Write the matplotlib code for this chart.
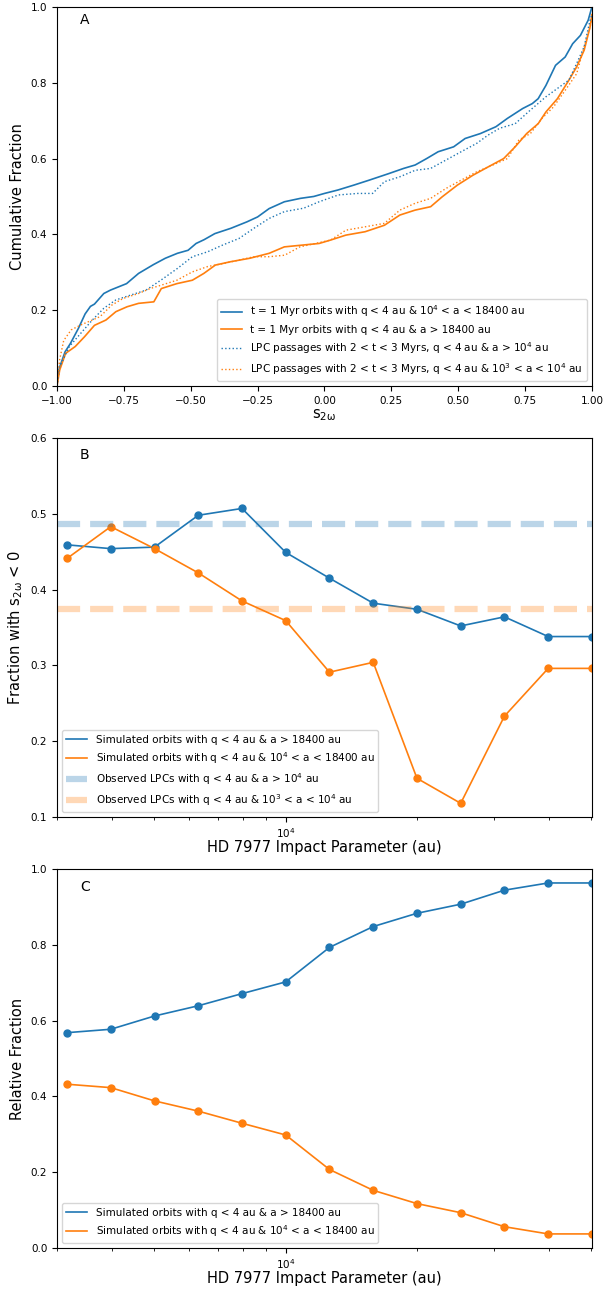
import matplotlib.pyplot as plt
from matplotlib.ticker import NullFormatter

# cumulative distributions of s_2w (knot points along each curve)
s_blue = [-1.0, -0.99, -0.97, -0.95, -0.92, -0.895, -0.875, -0.86, -0.825, -0.80, -0.74, -0.695,
          -0.64, -0.595, -0.55, -0.51, -0.48, -0.45, -0.41, -0.35, -0.29, -0.25, -0.207, -0.15,
          -0.09, -0.04, 0.0, 0.05, 0.11, 0.167, 0.239, 0.296, 0.339, 0.382, 0.425, 0.483, 0.526,
          0.583, 0.641, 0.684, 0.741, 0.777, 0.799, 0.828, 0.864, 0.9, 0.928, 0.957, 0.986, 1.0]
cdf_blue = [0.02, 0.05, 0.09, 0.112, 0.152, 0.19, 0.21, 0.216, 0.244, 0.253, 0.27, 0.297,
            0.32, 0.337, 0.35, 0.358, 0.376, 0.386, 0.402, 0.416, 0.433, 0.446, 0.468, 0.486,
            0.495, 0.50, 0.508, 0.517, 0.53, 0.543, 0.56, 0.574, 0.583, 0.60, 0.618, 0.631, 0.653,
            0.666, 0.684, 0.706, 0.732, 0.745, 0.758, 0.793, 0.846, 0.868, 0.903, 0.925, 0.965, 1.0]

s_orange = [-1.0, -0.99, -0.968, -0.932, -0.897, -0.86, -0.817, -0.78, -0.738, -0.695, -0.638,
            -0.61, -0.552, -0.494, -0.451, -0.408, -0.35, -0.279, -0.207, -0.15, -0.078, -0.02,
            0.023, 0.08, 0.152, 0.224, 0.282, 0.339, 0.397, 0.44, 0.497, 0.555, 0.612, 0.67,
            0.713, 0.756, 0.799, 0.828, 0.871, 0.914, 0.943, 0.971, 0.993, 1.0]
cdf_orange = [0.0, 0.042, 0.086, 0.104, 0.13, 0.16, 0.174, 0.196, 0.209, 0.218, 0.222,
              0.257, 0.27, 0.279, 0.297, 0.319, 0.328, 0.337, 0.35, 0.367, 0.372, 0.376,
              0.385, 0.398, 0.407, 0.424, 0.451, 0.464, 0.473, 0.499, 0.53, 0.556, 0.578, 0.60,
              0.631, 0.666, 0.692, 0.723, 0.758, 0.807, 0.842, 0.886, 0.947, 0.98]

s_lpc_far = [-1.0, -0.99, -0.954, -0.91, -0.868, -0.825, -0.78, -0.724, -0.667, -0.61, -0.55,
             -0.494, -0.437, -0.38, -0.32, -0.264, -0.207, -0.15, -0.078, -0.02, 0.052, 0.124,
             0.18, 0.224, 0.282, 0.339, 0.397, 0.454, 0.511, 0.569, 0.612, 0.655, 0.713, 0.77,
             0.828, 0.871, 0.914, 0.943, 0.971, 0.993, 1.0]
cdf_lpc_far = [0.0, 0.05, 0.104, 0.14, 0.174, 0.205, 0.227, 0.24, 0.253, 0.28, 0.31,
               0.341, 0.354, 0.372, 0.389, 0.416, 0.442, 0.46, 0.469, 0.486, 0.504, 0.508,
               0.508, 0.539, 0.552, 0.569, 0.574, 0.596, 0.618, 0.64, 0.662, 0.68, 0.692, 0.728,
               0.763, 0.785, 0.807, 0.851, 0.895, 0.965, 0.98]

s_lpc_near = [-1.0, -0.99, -0.975, -0.947, -0.911, -0.868, -0.839, -0.796, -0.753, -0.695,
              -0.652, -0.61, -0.552, -0.494, -0.437, -0.379, -0.32, -0.264, -0.207, -0.149,
              -0.092, -0.034, 0.023, 0.08, 0.152, 0.224, 0.282, 0.339, 0.397, 0.454, 0.511,
              0.569, 0.626, 0.684, 0.727, 0.77, 0.813, 0.856, 0.9, 0.943, 0.971, 0.993, 1.0]
cdf_lpc_near = [0.0, 0.07, 0.12, 0.148, 0.161, 0.174, 0.183, 0.213, 0.231, 0.244,
                0.257, 0.266, 0.279, 0.301, 0.315, 0.323, 0.332, 0.341, 0.341, 0.345,
                0.367, 0.376, 0.385, 0.411, 0.42, 0.429, 0.464, 0.482, 0.495, 0.521, 0.543,
                0.565, 0.582, 0.60, 0.649, 0.666, 0.706, 0.736, 0.78, 0.824, 0.895, 0.947, 0.97]

# impact parameter grid (au)
b_au = [3162, 3981, 5012, 6310, 7943, 10000, 12589, 15849, 19953, 25119, 31623, 39811, 50119]

# fraction with s_2w < 0
neg_far = [0.459, 0.454, 0.456, 0.498, 0.507, 0.449, 0.415, 0.382, 0.374, 0.352, 0.364, 0.338, 0.338]
neg_mid = [0.441, 0.483, 0.454, 0.422, 0.385, 0.359, 0.291, 0.304, 0.151, 0.118, 0.233, 0.296, 0.296]
obs_far = 0.486
obs_near = 0.375

# relative fraction of each population
rel_far = [0.568, 0.577, 0.612, 0.639, 0.671, 0.702, 0.793, 0.848, 0.883, 0.907, 0.944, 0.963, 0.963]
rel_mid = [0.432, 0.423, 0.388, 0.361, 0.329, 0.298, 0.207, 0.152, 0.117, 0.093, 0.056, 0.037, 0.037]

blue = '#1f77b4'
orange = '#ff7f0e'
tick_fs = 7.5
label_fs = 10.5
legend_fs = 7.5

fig = plt.figure(figsize=(6.04, 12.9), dpi=100)
axA = fig.add_axes([0.0944, 0.7008, 0.8856, 0.2938])
axB = fig.add_axes([0.0944, 0.3667, 0.8856, 0.2938])
axC = fig.add_axes([0.0944, 0.0326, 0.8856, 0.2938])

# panel A
axA.plot(s_blue, cdf_blue, color=blue, lw=1.2,
         label='t = 1 Myr orbits with q < 4 au & $10^4$ < a < 18400 au')
axA.plot(s_orange, cdf_orange, color=orange, lw=1.2,
         label='t = 1 Myr orbits with q < 4 au & a > 18400 au')
axA.plot(s_lpc_far, cdf_lpc_far, color=blue, lw=1, ls=':',
         label='LPC passages with 2 < t < 3 Myrs, q < 4 au & a > $10^4$ au')
axA.plot(s_lpc_near, cdf_lpc_near, color=orange, lw=1, ls=':',
         label='LPC passages with 2 < t < 3 Myrs, q < 4 au & $10^3$ < a < $10^4$ au')
axA.set_xlim(-1, 1)
axA.set_ylim(0, 1)
axA.set_xlabel(r'$\mathrm{s_{2\omega}}$', fontsize=label_fs, labelpad=1)
axA.set_ylabel('Cumulative Fraction', fontsize=label_fs)
axA.legend(loc='lower right', fontsize=legend_fs)
axA.text(0.052, 0.965, 'A', transform=axA.transAxes, fontsize=10, va='center', ha='center')

# panel B: lines carry the legend entries, markers drawn on top
axB.plot(b_au, neg_far, color=blue, lw=1.2,
         label='Simulated orbits with q < 4 au & a > 18400 au')
axB.plot(b_au, neg_mid, color=orange, lw=1.2,
         label='Simulated orbits with q < 4 au & $10^4$ < a < 18400 au')
axB.plot(b_au, neg_far, 'o', color=blue, ms=5)
axB.plot(b_au, neg_mid, 'o', color=orange, ms=5)
axB.axhline(obs_far, color=blue, ls='--', lw=4.5, alpha=0.3,
            label='Observed LPCs with q < 4 au & a > $10^4$ au')
axB.axhline(obs_near, color=orange, ls='--', lw=4.5, alpha=0.3,
            label='Observed LPCs with q < 4 au & $10^3$ < a < $10^4$ au')
axB.set_ylim(0.1, 0.6)
axB.set_ylabel(r'Fraction with $\mathrm{s_{2\omega}}$ < 0', fontsize=label_fs)
axB.legend(loc='lower left', fontsize=legend_fs)
axB.text(0.052, 0.955, 'B', transform=axB.transAxes, fontsize=10, va='center', ha='center')

# panel C
axC.plot(b_au, rel_far, color=blue, lw=1.2,
         label='Simulated orbits with q < 4 au & a > 18400 au')
axC.plot(b_au, rel_mid, color=orange, lw=1.2,
         label='Simulated orbits with q < 4 au & $10^4$ < a < 18400 au')
axC.plot(b_au, rel_far, 'o', color=blue, ms=5)
axC.plot(b_au, rel_mid, 'o', color=orange, ms=5)
axC.set_ylim(0, 1)
axC.set_ylabel('Relative Fraction', fontsize=label_fs)
axC.legend(loc='lower left', fontsize=legend_fs)
axC.text(0.052, 0.952, 'C', transform=axC.transAxes, fontsize=10, va='center', ha='center')

for ax in (axB, axC):
    ax.set_xscale('log')
    ax.set_xlim(3000, 50119)
    ax.xaxis.set_minor_formatter(NullFormatter())
    ax.set_xlabel('HD 7977 Impact Parameter (au)', fontsize=label_fs, labelpad=0)

for ax in (axA, axB, axC):
    ax.tick_params(labelsize=tick_fs)

fig.savefig('out.png', dpi=100)
